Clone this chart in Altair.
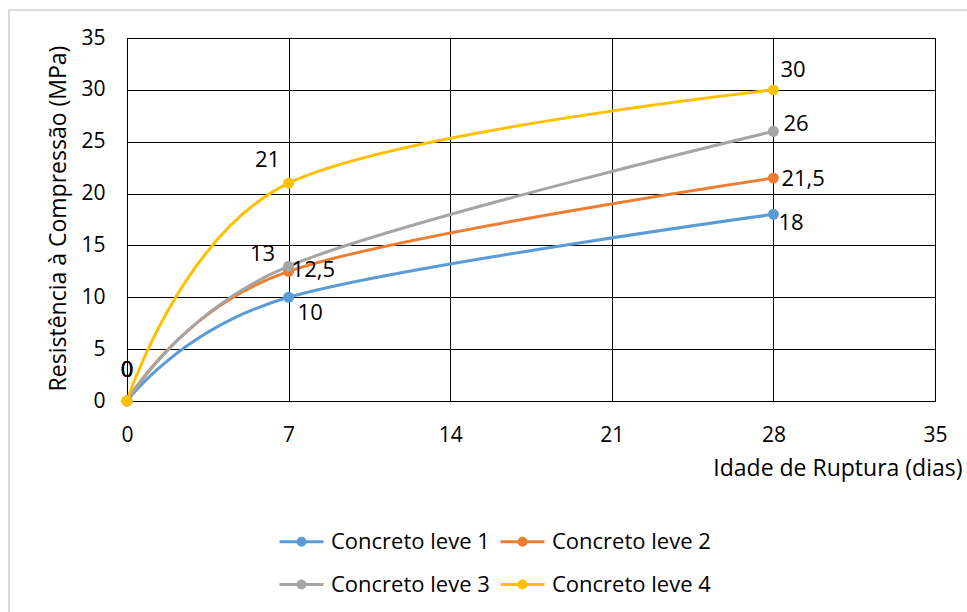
import altair as alt
import pandas as pd

# Compressive strength of four lightweight concretes vs. curing age
days = [0, 7, 28]
series_names = ["Concreto leve 1", "Concreto leve 2", "Concreto leve 3", "Concreto leve 4"]
strength_1 = [0, 10, 18]
strength_2 = [0, 12.5, 21.5]
strength_3 = [0, 13, 26]
strength_4 = [0, 21, 30]
series_values = [strength_1, strength_2, strength_3, strength_4]
palette = ["#5B9BD5", "#ED7D31", "#A5A5A5", "#FFC000"]

x_ticks = [0, 7, 14, 21, 28, 35]
y_ticks = [0, 5, 10, 15, 20, 25, 30, 35]

rows = []
for order, (name, vals) in enumerate(zip(series_names, series_values)):
    for d, v in zip(days, vals):
        label = (f"{v:g}").replace(".", ",")
        rows.append({"serie": name, "ordem": order, "dia": d, "mpa": v, "rotulo": label})
df = pd.DataFrame(rows)

FONT = "Open Sans"
TICK_SIZE = 21
TEXT_SIZE = 22
W, H = 808, 363

x_enc = alt.X("dia:Q", scale=alt.Scale(domain=[0, 35], nice=False),
              axis=alt.Axis(values=x_ticks, title="Idade de Ruptura (dias)", grid=True,
                            gridColor="black", gridWidth=1, gridOpacity=1,
                            domainColor="black", ticks=False, labelPadding=23, labelFlush=False,
                            labelFontSize=TICK_SIZE, labelFont=FONT, labelColor="black",
                            titleFont=FONT, titleFontSize=23, titleFontWeight="normal",
                            titleColor="black", titleX=835, titleY=74, titleAlign="right",
                            titleBaseline="alphabetic"))
y_enc = alt.Y("mpa:Q", scale=alt.Scale(domain=[0, 35], nice=False),
              axis=alt.Axis(values=y_ticks, title="Resistência à Compressão (MPa)", grid=True,
                            gridColor="black", gridWidth=1, gridOpacity=1,
                            domainColor="black", ticks=False, labelPadding=22, labelFlush=False,
                            labelFontSize=TICK_SIZE, labelFont=FONT, labelColor="black",
                            titleFont=FONT, titleFontSize=23, titleFontWeight="normal",
                            titleColor="black", titleX=-69, titleY=180, titleAngle=-90,
                            titleAlign="center", titleBaseline="middle"))

color_scale = alt.Scale(domain=series_names, range=palette)

# Legend glyph: a short line with a dot in the middle
legend_glyph = ("M-2.2,0L2.2,0"
                "M-0.35,0A0.35,0.35 0 1,0 0.35,0A0.35,0.35 0 1,0 -0.35,0"
                "M-0.15,0A0.15,0.15 0 1,0 0.15,0A0.15,0.15 0 1,0 -0.15,0")

lines = alt.Chart(df).mark_line(interpolate="cardinal", strokeWidth=3).encode(
    x=x_enc, y=y_enc,
    color=alt.Color("serie:N", scale=color_scale,
                    legend=alt.Legend(title=None, orient="none", legendX=151, legendY=492,
                                      direction="horizontal", columns=2,
                                      symbolType=legend_glyph, symbolSize=400,
                                      symbolStrokeWidth=3, symbolOffset=12, labelOffset=18,
                                      labelFont=FONT, labelFontSize=TEXT_SIZE, labelColor="black",
                                      labelLimit=300, columnPadding=4, rowPadding=20)),
    order="ordem:Q",
)

points = alt.Chart(df).mark_circle(size=120, opacity=1).encode(
    x="dia:Q", y="mpa:Q",
    color=alt.Color("serie:N", scale=color_scale, legend=None),
)

# Data label placement (pixel nudges per point)
label_nudge = {
    ("Concreto leve 1", 0): (0, -31, "center"),
    ("Concreto leve 2", 0): (0, -31, "center"),
    ("Concreto leve 3", 0): (0, -31, "center"),
    ("Concreto leve 4", 0): (0, -31, "center"),
    ("Concreto leve 1", 7): (9, 16, "left"),
    ("Concreto leve 2", 7): (3, -1, "left"),
    ("Concreto leve 3", 7): (-26, -12, "center"),
    ("Concreto leve 4", 7): (-21, -23, "center"),
    ("Concreto leve 1", 28): (5, 9, "left"),
    ("Concreto leve 2", 28): (8, 1, "left"),
    ("Concreto leve 3", 28): (10, -7, "left"),
    ("Concreto leve 4", 28): (7, -20, "left"),
}

label_layers = []
for (name, d), (dx, dy, align) in label_nudge.items():
    label_layers.append(
        alt.Chart(df).transform_filter(
            (alt.datum.serie == name) & (alt.datum.dia == d)
        ).mark_text(dx=dx, dy=dy, align=align, baseline="middle", font=FONT,
                    fontSize=TEXT_SIZE, color="black").encode(x="dia:Q", y="mpa:Q", text="rotulo:N")
    )

frame = alt.Chart(alt.Data(values=[{}])).mark_rect(
    filled=False, stroke="#D9D9D9", strokeWidth=2
).encode(x=alt.value(-118), x2=alt.value(850), y=alt.value(-28), y2=alt.value(590))

chart = alt.layer(frame, lines, points, *label_layers).properties(
    width=W, height=H,
    autosize=alt.AutoSizeParams(type="none"),
    padding={"left": 127, "top": 38, "right": 32, "bottom": 211},
    background="white",
).configure_view(stroke="black", strokeWidth=1)

chart.save("out.html", embed_options={"renderer": "svg", "actions": False})
